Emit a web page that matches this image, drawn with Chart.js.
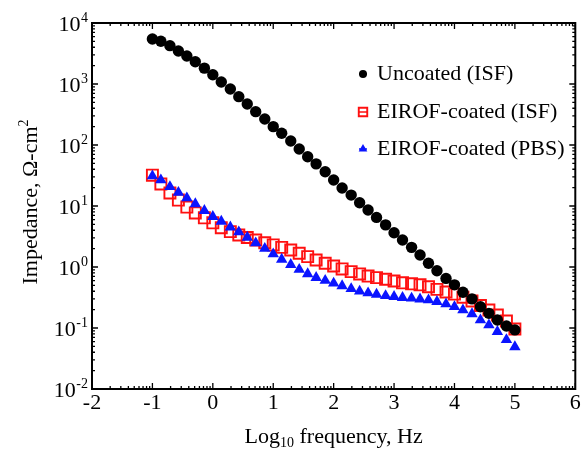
<!DOCTYPE html>
<html>
<head>
<meta charset="utf-8">
<script src="https://cdn.jsdelivr.net/npm/chart.js@4.4.0/dist/chart.umd.min.js"></script>
<style>
    body { margin: 0; background: #fff; }
    canvas { display: block; }
</style>
</head>
<body>
<canvas id="impedanceChart" width="585" height="450"></canvas>
<script>
// Log10 frecuencia (Hz) - 7 puntos por década
const logFreq = [-1.00, -0.86, -0.71, -0.57, -0.43, -0.29, -0.14, 0.00, 0.14, 0.29, 0.43,
    0.57, 0.71, 0.86, 1.00, 1.14, 1.29, 1.43, 1.57, 1.71, 1.86, 2.00, 2.14, 2.29, 2.43,
    2.57, 2.71, 2.86, 3.00, 3.14, 3.29, 3.43, 3.57, 3.71, 3.86, 4.00, 4.14, 4.29, 4.43,
    4.57, 4.71, 4.86, 5.00];

// Impedancia, ohm-cm2
const uncoatedISF = [5470, 5010, 4250, 3470, 2880, 2320, 1820, 1420, 1080, 828, 620,
    470, 352, 267, 200, 156, 116, 86, 64, 49, 36.5, 26.7, 19.7, 15.1, 11.3,
    8.6, 6.5, 4.9, 3.65, 2.77, 2.1, 1.57, 1.15, 0.87, 0.65, 0.51, 0.386, 0.30, 0.223,
    0.174, 0.135, 0.108, 0.093];

const eirofISF = [32, 23, 16.3, 12.5, 9.6, 7.7, 6.4, 5.3, 4.4, 3.8, 3.35,
    3.05, 2.77, 2.5, 2.3, 2.1, 1.9, 1.68, 1.48, 1.3, 1.15, 1.04, 0.93, 0.84, 0.77,
    0.71, 0.67, 0.63, 0.59, 0.55, 0.53, 0.51, 0.475, 0.43, 0.39, 0.36, 0.32, 0.277, 0.234,
    0.197, 0.163, 0.13, 0.096];

const eirofPBS = [31, 26.7, 20.7, 16.6, 13.5, 10.8, 8.4, 6.7, 5.6, 4.5, 3.75,
    3.05, 2.47, 2.01, 1.63, 1.33, 1.09, 0.91, 0.77, 0.67, 0.6, 0.54, 0.49, 0.44, 0.4,
    0.375, 0.355, 0.338, 0.326, 0.314, 0.307, 0.297, 0.288, 0.27, 0.247, 0.223, 0.197, 0.17, 0.135,
    0.112, 0.087, 0.064, 0.049];

// Marcas de los ejes
const xTicks = [-2, -1, 0, 1, 2, 3, 4, 5, 6];
const yExponents = [-2, -1, 0, 1, 2, 3, 4];

const serif = '"Liberation Serif", "Times New Roman", serif';

function toPoints(values) {
    return values.map((v, i) => ({ x: logFreq[i], y: v }));
}

const datasets = [{
    label: 'Uncoated (ISF)',
    data: toPoints(uncoatedISF),
    pointStyle: 'circle',
    pointRadius: 5.7,
    backgroundColor: '#000',
    borderColor: '#000',
    borderWidth: 0,
    legendRadius: 4,
    order: 0
}, {
    label: 'EIROF-coated (ISF)',
    data: toPoints(eirofISF),
    pointStyle: 'rect',
    pointRadius: 7.8,
    backgroundColor: 'rgba(0,0,0,0)',
    borderColor: '#ff1010',
    borderWidth: 1.9,
    legendRadius: 6,
    order: 2
}, {
    label: 'EIROF-coated (PBS)',
    data: toPoints(eirofPBS),
    pointStyle: 'triangle',
    pointRadius: 6.6,
    backgroundColor: '#0a14ff',
    borderColor: '#0a14ff',
    borderWidth: 0,
    legendRadius: 5,
    order: 1
}];

// Dibuja marco, marcas hacia dentro, etiquetas, títulos y leyenda
const axisFrame = {
    id: 'axisFrame',
    afterDraw(chart) {
        const { ctx, chartArea: a, scales: { x, y } } = chart;
        ctx.save();
        ctx.strokeStyle = '#000';
        ctx.fillStyle = '#000';

        // marcas eje x (abajo y arriba)
        ctx.lineWidth = 1.3;
        ctx.beginPath();
        xTicks.forEach(v => {
            const px = x.getPixelForValue(v);
            ctx.moveTo(px, a.bottom); ctx.lineTo(px, a.bottom - 6);
            ctx.moveTo(px, a.top); ctx.lineTo(px, a.top + 6);
            if (v < 6) {
                for (let m = 2; m < 10; m++) {
                    const pm = x.getPixelForValue(v + Math.log10(m));
                    ctx.moveTo(pm, a.bottom); ctx.lineTo(pm, a.bottom - 3);
                    ctx.moveTo(pm, a.top); ctx.lineTo(pm, a.top + 3);
                }
            }
        });
        // marcas eje y (izquierda y derecha)
        yExponents.forEach(e => {
            const py = y.getPixelForValue(Math.pow(10, e));
            ctx.moveTo(a.left, py); ctx.lineTo(a.left + 6, py);
            ctx.moveTo(a.right, py); ctx.lineTo(a.right - 6, py);
            if (e < 4) {
                for (let m = 2; m < 10; m++) {
                    const pm = y.getPixelForValue(m * Math.pow(10, e));
                    ctx.moveTo(a.left, pm); ctx.lineTo(a.left + 3, pm);
                    ctx.moveTo(a.right, pm); ctx.lineTo(a.right - 3, pm);
                }
            }
        });
        ctx.stroke();

        // marco
        ctx.lineWidth = 2;
        ctx.strokeRect(a.left, a.top, a.right - a.left, a.bottom - a.top);

        // etiquetas eje x
        ctx.font = '22px ' + serif;
        ctx.textAlign = 'center';
        ctx.textBaseline = 'middle';
        xTicks.forEach(v => {
            ctx.fillText(String(v), x.getPixelForValue(v), a.bottom + 14);
        });

        // etiquetas eje y: 10^n
        yExponents.forEach(e => {
            const py = y.getPixelForValue(Math.pow(10, e));
            const exp = String(e);
            ctx.font = '14px ' + serif;
            const expW = ctx.measureText(exp).width;
            const right = a.left - 4;
            ctx.textAlign = 'left';
            ctx.fillText(exp, right - expW, py - 5);
            ctx.font = '22px ' + serif;
            ctx.textAlign = 'right';
            ctx.fillText('10', right - expW - 0.5, py + 2);
        });

        // título eje x
        ctx.textBaseline = 'alphabetic';
        ctx.textAlign = 'left';
        const parts = [['Log', 22, 0], ['10', 14, 4], [' frequency, Hz', 22, 0]];
        let total = 0;
        parts.forEach(p => { ctx.font = p[1] + 'px ' + serif; total += ctx.measureText(p[0]).width; });
        let cx = (a.left + a.right) / 2 - total / 2;
        parts.forEach(p => {
            ctx.font = p[1] + 'px ' + serif;
            ctx.fillText(p[0], cx, 443 + p[2]);
            cx += ctx.measureText(p[0]).width;
        });

        // título eje y (rotado)
        ctx.save();
        ctx.translate(37, (a.top + a.bottom) / 2 - 4);
        ctx.rotate(-Math.PI / 2);
        const yParts = [['Impedance, \u03A9-cm', 22, 0], ['2', 14, -9]];
        total = 0;
        yParts.forEach(p => { ctx.font = p[1] + 'px ' + serif; total += ctx.measureText(p[0]).width; });
        cx = -total / 2;
        yParts.forEach(p => {
            ctx.font = p[1] + 'px ' + serif;
            ctx.fillText(p[0], cx, p[2]);
            cx += ctx.measureText(p[0]).width;
        });
        ctx.restore();

        // leyenda
        const rows = [74, 112, 149];
        const mx = 363;
        chart.data.datasets.forEach((ds, i) => {
            ctx.fillStyle = ds.backgroundColor;
            ctx.strokeStyle = ds.borderColor;
            ctx.lineWidth = ds.borderWidth;
            Chart.helpers.drawPoint(ctx, {
                pointStyle: ds.pointStyle,
                radius: ds.legendRadius,
                borderWidth: ds.borderWidth
            }, mx, rows[i]);
            // línea corta del símbolo
            ctx.strokeStyle = ds.borderColor;
            ctx.lineWidth = 1.5;
            ctx.beginPath();
            ctx.moveTo(mx - 4, rows[i]);
            ctx.lineTo(mx + 4, rows[i]);
            ctx.stroke();
            ctx.fillStyle = '#000';
            ctx.font = '22px ' + serif;
            ctx.textAlign = 'left';
            ctx.textBaseline = 'middle';
            ctx.fillText(ds.label, 377, rows[i]);
        });
        ctx.restore();
    }
};

const chart = new Chart(document.getElementById('impedanceChart'), {
    type: 'scatter',
    data: { datasets: datasets },
    options: {
        responsive: false,
        animation: false,
        events: [],
        layout: { padding: { left: 92, right: 7.5, top: 23, bottom: 61 } },
        plugins: {
            legend: { display: false },
            tooltip: { enabled: false }
        },
        scales: {
            x: { type: 'linear', min: -2, max: 6, display: false },
            y: { type: 'logarithmic', min: 0.01, max: 10000, display: false }
        }
    },
    plugins: [axisFrame]
});
</script>
</body>
</html>
